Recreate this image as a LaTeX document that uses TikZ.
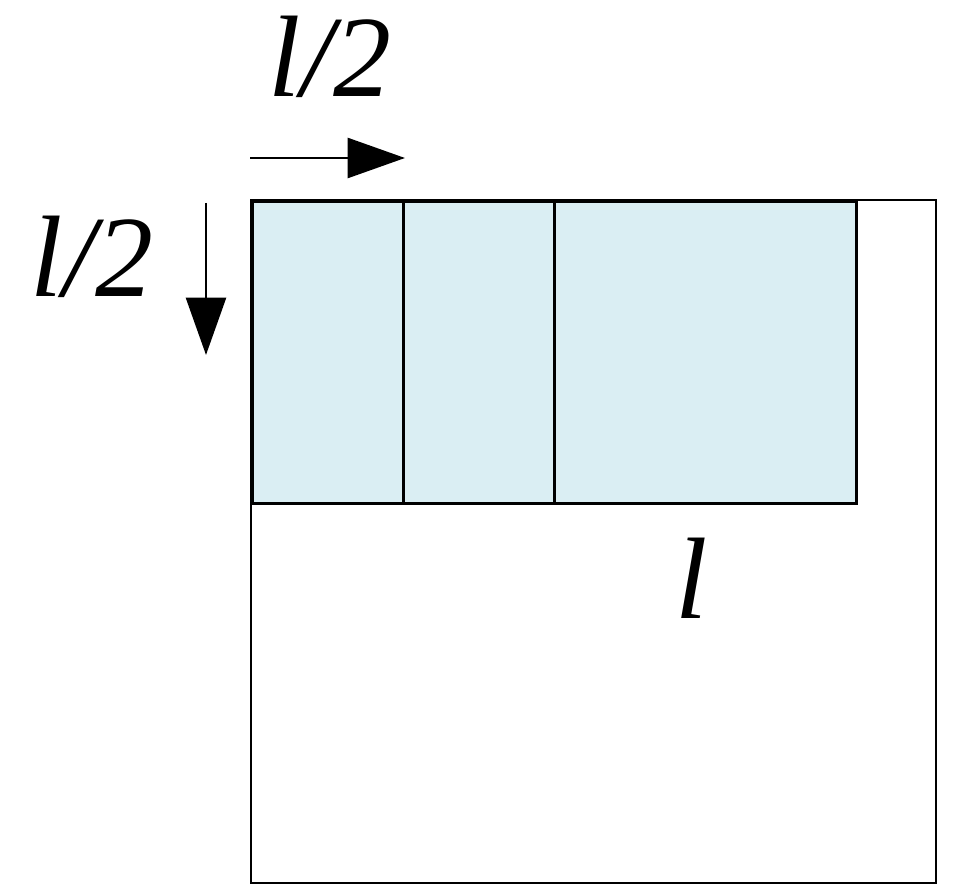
\documentclass[tikz,border=0pt]{standalone}
\usepackage{fontspec}
\setmainfont{Liberation Serif}
\usetikzlibrary{arrows.meta}
\definecolor{cellblue}{HTML}{DAEEF3}
\tikzset{>={Triangle[length=1.15cm,width=0.8cm]}}
\tikzset{cell/.style={draw,fill=cellblue,line width=1.7pt}}
\tikzset{lab/.style={font=\fontsize{66}{70}\selectfont\itshape,inner sep=0pt}}
\begin{document}
\begin{tikzpicture}[x=0.02cm,y=-0.02cm,line width=1.7pt]
\useasboundingbox (0,0) rectangle (968,895);

% outer square and filled strip
\draw (251,200) rectangle (936,883);
\node (c1) [cell,minimum width=151*0.02cm,minimum height=302*0.02cm,anchor=north west] at (251,200) {};
\node (c2) [cell,minimum width=151*0.02cm,minimum height=302*0.02cm,anchor=north west] at (402,200) {};
\node (c3) [cell,minimum width=302*0.02cm,minimum height=302*0.02cm,anchor=north west] at (553,200) {};

% arrows
\coordinate (hs) at (250,158);
\coordinate (he) at (405,158);
\coordinate (vs) at (206,203);
\coordinate (ve) at (206,355);
\draw[->] (hs) -- (he);
\draw[->] (vs) -- (ve);

% labels
\node (top) [lab] at (330,57) {l/2};
\node (left) [lab] at (92,257) {l/2};
\node (len) [lab] at (692,578) {l};
\end{tikzpicture}
\end{document}
